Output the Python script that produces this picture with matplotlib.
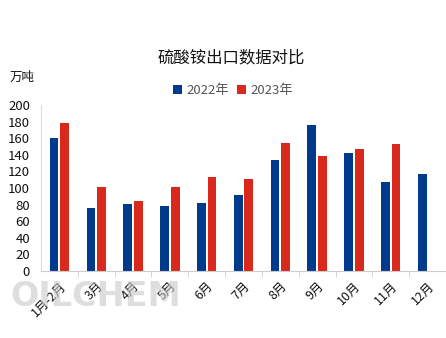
import matplotlib.pyplot as plt
import numpy as np

plt.rcParams['font.family'] = ['Noto Sans CJK SC', 'DejaVu Sans']

months = ['1月-2月', '3月', '4月', '5月', '6月', '7月', '8月', '9月', '10月', '11月', '12月']
y2022 = [160, 76, 81, 78, 82, 92, 134, 176, 142, 107, 117]
y2023 = [178, 101, 84, 101, 113, 111, 154, 139, 147, 153, np.nan]

blue = '#003a8c'
red = '#d9291c'

fig = plt.figure(figsize=(4.46, 3.38), dpi=100)
ax = fig.add_axes([41 / 446, 67 / 338, 405 / 446, 166 / 338])

x = np.arange(len(months))
w = 9 / 38
off = 5.5 / 38
ax.bar(x - off, y2022, w, color=blue, label='2022年')
ax.bar(x + off, y2023, w, color=red, label='2023年')

ax.set_xlim(-0.5, -0.5 + 405 / 38)
ax.set_ylim(0, 200)
ax.set_yticks(range(0, 201, 20))
ax.tick_params(axis='y', length=0, labelsize=9.5, pad=8, colors='#111111')

ax.set_xticks(np.arange(len(months)) + 0.5, minor=True)
ax.set_xticks(x)
ax.set_xticklabels(months, rotation=45, ha='right', rotation_mode='anchor', fontsize=9)
ax.tick_params(axis='x', which='major', length=0, pad=6, colors='#111111')
ax.tick_params(axis='x', which='minor', length=4, color='#cccccc')

for s in ['top', 'right']:
    ax.spines[s].set_visible(False)
ax.spines['left'].set_color('#dddddd')
ax.spines['bottom'].set_color('#cccccc')

fig.text(231 / 446, 1 - 58 / 338, '硫酸铵出口数据对比', ha='center', va='center', fontsize=11.8, color='#111111')
fig.text(10 / 446, 1 - 77 / 338, '万吨', ha='left', va='center', fontsize=9, color='#111111')

leg = ax.legend(loc='center', bbox_to_anchor=(233 / 446, 1 - 91 / 338), bbox_transform=fig.transFigure,
                ncol=2, frameon=False, fontsize=9.5, handlelength=0.7, handleheight=0.7,
                handletextpad=0.3, columnspacing=0.6, borderpad=0)
for t in leg.get_texts():
    t.set_color('#555555')

# faint watermark
fig.text(10 / 446, 1 - 296 / 338, 'OILCHEM', ha='left', va='center', fontsize=24, fontweight='bold',
         color='#c8c8c8', alpha=0.6, family='DejaVu Sans', zorder=0)

fig.savefig('out.png', dpi=100)
